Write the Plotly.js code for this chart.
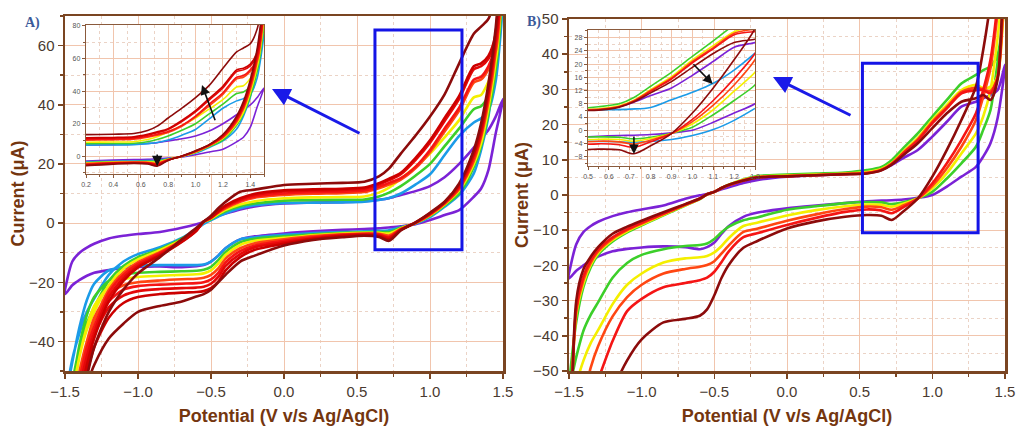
<!DOCTYPE html>
<html><head><meta charset="utf-8">
<script src="https://cdn.plot.ly/plotly-3.0.1.min.js"></script>
<style>html,body{margin:0;padding:0;background:#fff}#chart{width:1018px;height:426px}</style>
</head><body><div id="chart"></div>
<script>
// Potential grid (V vs Ag/AgCl), shared by every branch
const potential = [-1.5,-1.45,-1.4,-1.35,-1.3,-1.2,-1.1,-1.0,-0.85,-0.7,-0.6,-0.55,-0.5,-0.45,-0.4,-0.3,-0.2,0,0.2,0.4,0.55,0.65,0.72,0.8,0.9,1.0,1.1,1.2,1.3,1.35,1.4,1.45,1.5];

// ---------- Panel A : upper (anodic) branches ----------
const aVioletUp  = [-24,-13,-10,-8.3,-7,-5.2,-4.3,-3.7,-3,-1.6,-0.4,0.4,1.4,2.4,3.2,4.6,5.6,6.6,6.9,7.1,7.4,7.9,8.4,9.5,10.8,12.5,15.5,20,25.5,28.6,31.5,36,42];
const aBlueUp    = [-60,-46,-37,-30,-25.5,-17.5,-13,-10.5,-8.2,-5,-2,-0.3,1,2.2,3.3,5,6,6.8,6.9,7,7.2,7.8,8.5,10,13,16.5,23,29.5,34,35.4,38,48,75];
const aGreenUp   = [-70,-54,-42,-34,-28.5,-19.5,-14.5,-11.5,-8.8,-5.3,-2.1,0.4,1.3,2.8,4,5.7,6.6,7.6,7.8,7.9,8,9,10.3,12.5,16,20,26,32,38.5,39.5,43,52,80];
const aYellowUp  = [-75,-58,-45,-36,-30,-21,-15.5,-12.3,-9.2,-5.6,-2.2,0.4,1.5,3.1,4.5,6.3,7.4,8.4,8.7,8.8,9,10.3,12,15,19,23.5,29,34.8,42.5,43.3,47.8,55,85];
const aOrangeUp  = [-82,-64,-50,-40,-33,-22.5,-16.7,-13.2,-9.8,-5.8,-2.3,0.5,1.7,3.5,5,7.2,8.6,9.5,9.9,10.1,10.5,11.8,13,14.7,18.5,24,31,38,47.5,48.5,52,58,88];
const aRedUp     = [-88,-68,-53,-42,-35,-23.5,-17.5,-13.8,-10.2,-6,-2.4,0.5,1.8,3.7,5.4,7.6,9,10,10.4,10.6,11,12.3,13.6,15.2,19,24.7,32,39,48.5,49.5,53,60,90];
const aRed2Up    = [-93,-72,-56,-45,-37,-25,-18.5,-14.5,-10.7,-6.2,-2.5,0.5,1.9,3.9,5.7,8,9.5,10.7,11,11.2,11.6,13,14.5,16.5,21.3,27.2,34.5,42,52,53,55.5,62,92];
const aCrimsonUp = [-98,-76,-60,-48,-39,-26.5,-19.5,-15,-11,-6.4,-2.6,0.5,2,4.1,6,8.4,9.9,11.1,11.4,11.6,12,13.5,15,17,22,28,35.5,43,53,54,56.5,64,95];
const aDarkUp    = [-110,-85,-65,-52,-42,-30,-22.5,-17,-11.5,-5.5,-1.6,0.5,2.5,5,7.2,10.6,11.3,12.9,13.3,13.6,14,15.8,18.5,23.5,29.5,36,43.5,54,64,66.4,69,78,100];

// ---------- Panel A : lower (cathodic) branches ----------
const aVioletDown  = [-24,-21,-19.2,-17.8,-16.8,-15.9,-15.2,-14.8,-14.7,-14.9,-14.6,-14.2,-13,-11,-8.5,-5.5,-4.5,-3.5,-2.8,-2.3,-2,-1.8,-1.5,-1.1,-0.4,1,2.7,4.4,8.9,11.7,17.9,30.3,42];
const aBlueDown    = [-60,-47,-35,-26,-20.5,-16,-14.8,-14.4,-14.2,-14.2,-14.2,-14,-13,-11,-8.5,-5.5,-4.8,-4,-3.4,-3,-2.8,-2.6,-2.4,-1.4,-0.2,2,5.5,9.5,16.8,24.7,36,55,75];
const aGreenDown   = [-70,-55,-41,-31,-25,-19.5,-17.5,-16.8,-16.5,-16.3,-16.1,-15.8,-14.8,-12.5,-9.8,-6.5,-5.3,-4.5,-3.8,-3.3,-3.1,-3,-3,-1.6,-0.1,2.4,6,10,19,26,37,52,80];
const aYellowDown  = [-75,-60,-45,-35,-28,-21.5,-19,-18.2,-17.8,-17.5,-17.3,-17,-16,-13.7,-10.8,-7.4,-6,-5,-4.1,-3.5,-3.3,-3.3,-3.5,-1.8,0,2.6,6.3,11,20,27,39,55,85];
const aOrangeDown  = [-82,-68,-52,-40,-32,-24,-21,-20,-19.4,-19,-18.8,-18.5,-17.5,-15.3,-12,-8.5,-6.8,-5.5,-4.4,-3.8,-3.5,-3.6,-4.2,-2,0,2.8,6.5,11.5,21,29,41,58,88];
const aRedDown     = [-88,-72,-56,-43,-35,-26.5,-22.5,-21.3,-20.8,-20.5,-20.3,-20,-19,-16.8,-13.3,-9.5,-7.6,-6,-4.8,-4,-3.7,-3.9,-4.7,-2.1,0.1,3,6.8,12,22,30,43,60,90];
const aRed2Down    = [-93,-77,-60,-47,-38,-28.5,-24.5,-23,-22.3,-22,-21.8,-21.5,-20.5,-18.2,-14.5,-10.5,-8.2,-6.5,-5.1,-4.2,-3.9,-4.1,-5,-2.2,0.1,3.2,7,12.5,23,31,44,62,92];
const aCrimsonDown = [-98,-82,-64,-51,-42,-32,-27,-25,-24,-23.5,-23.3,-23,-22,-19.8,-16,-11.5,-9,-7,-5.4,-4.4,-4.1,-4.4,-5.5,-2.3,0.2,3.3,7.1,13,23.5,32,45,64,95];
const aDarkDown    = [-110,-85,-68,-55,-48,-39,-34,-30,-28,-26.5,-24.8,-24,-22.5,-20,-17.5,-13,-11,-7.6,-5.7,-4.8,-4.3,-4.7,-6,-2.5,0.2,3.5,7.2,13.4,24.7,33.7,47,66,100];

// ---------- Panel B : upper branches ----------
const bVioletUp = [-23.7,-14,-10.5,-8.8,-7.6,-6,-4.9,-4.1,-3,-1.1,-0.1,0.3,0.9,1.6,2.2,3.4,4.3,5.2,5.6,6,6.4,7.2,8.5,10.5,12.8,16.6,20.8,25.1,26.5,27.5,28.4,29.8,37];
const bGreenUp  = [-55,-36,-26,-20.5,-17,-13.2,-10.6,-8.6,-5.8,-3,-1.2,0.2,0.9,2,2.9,4.4,5.4,5.8,6.1,6.4,7.1,8,9.9,13.3,17.5,22.3,27,31.7,34.1,35.5,36.5,40,55];
const bYellowUp = [-75,-34,-25,-19.8,-16.5,-12.8,-10.3,-8.4,-5.6,-2.9,-1.1,0.2,0.9,2,2.9,4.3,5.2,5.5,5.8,6.1,6.5,7.4,9.1,12.3,16.2,21.3,25.6,29.8,31.3,30.3,30.8,34,65];
const bOrangeUp = [-90,-33,-24,-19.2,-16,-12.4,-10,-8.1,-5.4,-2.8,-1.1,0.2,0.9,2,2.8,4.2,5.1,5.4,5.7,6,6.3,7.2,8.9,12,15.8,20.8,25,29.3,30.5,30,29.5,33.6,72];
const bRedUp    = [-100,-32,-23,-18.5,-15.5,-12,-9.7,-7.8,-5.3,-2.7,-1,0.2,0.9,2,2.8,4.1,5,5.3,5.6,5.9,6.2,7.1,8.8,11.8,15.5,20.4,24.6,28.9,29.8,29.8,28.9,33.6,80];
const bDarkUp   = [-130,-30,-21,-17.5,-14.8,-11,-9,-7.3,-4.9,-2.6,-1,0.2,0.9,2,2.9,4.1,5,5.3,5.6,5.9,6.1,7,8.6,11.3,14.7,19,23.2,26.5,27.5,28.4,27,33,100];

// ---------- Panel B : lower branches ----------
const bVioletDown = [-23.7,-21.5,-20,-18.6,-17.5,-16,-15.3,-14.9,-14.6,-14.8,-15.4,-14.8,-13.5,-11,-8.8,-6.2,-5,-3.8,-3,-2.3,-1.8,-1.6,-1.5,-1.3,-0.8,0,2.4,5.2,8,10.9,14.7,22,37];
const bGreenDown  = [-55,-46,-38.5,-34,-30.5,-23.5,-19.3,-17,-15.4,-14.5,-14.2,-13.8,-12.5,-10.6,-9,-7.2,-6.3,-4.2,-3.2,-2.3,-2,-2.1,-2.6,-2.1,-0.9,0.9,4.7,9,13.7,18.5,24.1,38,55];
const bYellowDown = [-75,-54,-47,-42,-38.4,-31,-25.5,-22.3,-19.2,-18,-17.7,-17.3,-16.3,-14.5,-12.2,-8.8,-7.8,-5.8,-4.3,-3.2,-2.7,-2.8,-3.3,-2.5,-1,1.9,6.2,11.8,17.5,22.3,29.8,45,65];
const bOrangeDown = [-90,-70,-58,-49,-43,-34.5,-29,-25.5,-22.3,-21,-20.4,-19.9,-18.8,-16.6,-14.3,-10.5,-9.5,-7.3,-5.5,-4,-3.3,-3.5,-4.2,-3,-1,2.6,7.6,13.7,21.3,27.9,36,52,72];
const bRedDown    = [-100,-80,-66,-58,-52.5,-41.5,-33,-29.5,-26.2,-25,-24.2,-23.5,-21.8,-19,-16,-12,-10.8,-8.5,-6.5,-4.8,-4.1,-4.4,-5.2,-3.5,-1,3.3,9,15.6,23.2,29.8,38.4,55,80];
const bDarkDown   = [-130,-110,-95,-82,-72,-56,-47,-41,-36.2,-35.2,-34.3,-32.5,-28.5,-23.5,-19.8,-15,-13,-9.5,-7.5,-6.2,-5.7,-5.9,-7.1,-4.7,-1,5.2,12.8,21.3,30.8,41.2,55,75,100];

// ---------- Inset B : extra blue curve (only shown in the inset) ----------
const insetBluePotential = [0.5,0.6,0.7,0.8,0.9,1.0,1.1,1.2,1.3];
const insetBlueUp   = [6.1,6.2,6.4,6.9,9.2,11.5,14.2,18.2,23.3];
const insetBlueDown = [-3.3,-3.4,-3.6,-3.4,-2.8,-1.6,0.2,3,6.6];

// ---------- colours ----------
const cViolet='#7b22d6', cBlue='#1b9be8', cGreen='#3ccf2a', cYellow='#f4ef00',
      cOrange='#ff4612', cRed='#f51515', cRed2='#e40808', cCrimson='#cc0000', cDark='#8c0b0b';

const panelA = [
  [aVioletUp,aVioletDown,cViolet],[aBlueUp,aBlueDown,cBlue],[aGreenUp,aGreenDown,cGreen],
  [aYellowUp,aYellowDown,cYellow],[aOrangeUp,aOrangeDown,cOrange],[aRedUp,aRedDown,cRed],
  [aRed2Up,aRed2Down,cRed2],[aCrimsonUp,aCrimsonDown,cCrimson],[aDarkUp,aDarkDown,cDark]
];
const panelB = [
  [bVioletUp,bVioletDown,cViolet],[bGreenUp,bGreenDown,cGreen],[bYellowUp,bYellowDown,cYellow],
  [bOrangeUp,bOrangeDown,cOrange],[bRedUp,bRedDown,cRed],[bDarkUp,bDarkDown,cDark]
];

function loop(up, down){
  const x = potential.concat(potential.slice(0,-1).reverse());
  const y = up.concat(down.slice(0,-1).reverse());
  return {x, y};
}
const traces = [];
function addPanel(list, xa, ya, w){
  list.forEach(([u,d,c]) => {
    const L = loop(u,d);
    traces.push({type:'scatter', mode:'lines', x:L.x, y:L.y, xaxis:xa, yaxis:ya,
      line:{color:c, width:w, shape:'spline', smoothing:0.75}, hoverinfo:'skip', showlegend:false});
  });
}
addPanel(panelA,'x','y',2.6);
addPanel(panelB,'x2','y2',2.6);
addPanel(panelA,'x3','y3',1.6);
// inset B: blue first so it sits underneath
traces.push({type:'scatter', mode:'lines',
  x: insetBluePotential.concat([null]).concat(insetBluePotential),
  y: insetBlueUp.concat([null]).concat(insetBlueDown),
  xaxis:'x4', yaxis:'y4', line:{color:cBlue,width:1.6,shape:'spline'}, hoverinfo:'skip', showlegend:false});
addPanel(panelB,'x4','y4',1.6);

const brown='#7a4522', tickCol='#4a3a30', grid='#f1c5ad', minorGrid='#ebd3c6';
const titleFont={family:'Liberation Sans, Arial, sans-serif', size:18, color:'#74360f', weight:'bold'};
const tickFont={family:'Liberation Sans, Arial, sans-serif', size:15, color:tickCol};
const W=1018, H=426;
function mainX(d0,d1,anchor){return {domain:[d0/W,d1/W], anchor, range:[-1.5,1.5], dtick:0.5, tick0:-1.5, tickformat:'.1f',
  showline:true, mirror:true, linecolor:brown, linewidth:2.5, ticks:'outside', ticklen:5, tickwidth:1.5, tickcolor:brown,
  showgrid:true, gridcolor:grid, gridwidth:1, zeroline:false, tickfont:tickFont,
  minor:{dtick:0.25, showgrid:true, gridcolor:minorGrid, griddash:'dot', ticks:'outside', ticklen:3, tickcolor:brown},
  title:{text:'Potential (V v/s Ag/AgCl)', font:titleFont, standoff:14}};}
function mainY(top,bot,anchor,range,dt){return {domain:[1-bot/H,1-top/H], anchor, range, dtick:dt, tick0:0,
  showline:true, mirror:true, linecolor:brown, linewidth:2.5, ticks:'outside', ticklen:5, tickwidth:1.5, tickcolor:brown,
  showgrid:true, gridcolor:grid, gridwidth:1, zeroline:false, tickfont:tickFont,
  minor:{dtick:dt/2, showgrid:true, gridcolor:minorGrid, griddash:'dot', ticks:'outside', ticklen:3, tickcolor:brown},
  title:{text:'Current (μA)', font:titleFont, standoff:0}};}
const insTick={family:'Liberation Sans, Arial, sans-serif', size:7, color:'#555'};
function insAxis(d0,d1,anchor,range,dt,t0,fmt,isY){
  const dom = isY ? [1-d1/H,1-d0/H] : [d0/W,d1/W];
  return {domain:dom, anchor, range, dtick:dt, tick0:t0, tickformat:fmt, showline:true, mirror:true,
    linecolor:'#8a5a3c', linewidth:1.3, ticks:'outside', ticklen:3, tickwidth:1, tickcolor:'#8a5a3c',
    showgrid:true, gridcolor:grid, gridwidth:1, zeroline:false, tickfont:insTick,
    minor:{dtick:dt/2, showgrid:true, gridcolor:minorGrid, griddash:'dot', ticks:'outside', ticklen:2, tickcolor:'#8a5a3c'}};
}

const layout = {
  width:W, height:H, autosize:false, margin:{l:0,r:0,t:0,b:0},
  paper_bgcolor:'#ffffff', plot_bgcolor:'#ffffff', showlegend:false, hovermode:false,
  xaxis: mainX(65,503,'y'),
  yaxis: mainY(16,371,'x',[-50,70],20),
  xaxis2: mainX(569,1005,'y2'),
  yaxis2: mainY(19,371,'x2',[-50,50],10),
  xaxis3: insAxis(86,264,'y3',[0.2,1.5],0.2,0.2,'.1f',false),
  yaxis3: insAxis(25,174,'x3',[-10.8,80.5],20,0,'d',true),
  xaxis4: insAxis(588,755,'y4',[0.5,1.3],0.1,0.5,'.1f',false),
  yaxis4: insAxis(30,166,'x4',[-10.8,30.3],4,0,'d',true),
  shapes:[
    {type:'rect', xref:'x', yref:'y', x0:0.623, x1:1.219, y0:-9, y1:65.3, line:{color:'#1414e6', width:3}},
    {type:'rect', xref:'x2', yref:'y2', x0:0.519, x1:1.315, y0:-10.7, y1:37.4, line:{color:'#1414e6', width:3}}
  ],
  annotations:[
    {xref:'paper', yref:'paper', x:23/W, y:1-22.5/H, xanchor:'left', yanchor:'middle', showarrow:false, text:'A)',
     font:{family:'Liberation Serif, serif', size:14, color:'#3b5a9a', weight:'bold'}},
    {xref:'paper', yref:'paper', x:525/W, y:1-21.5/H, xanchor:'left', yanchor:'middle', showarrow:false, text:'B)',
     font:{family:'Liberation Serif, serif', size:14, color:'#3b5a9a', weight:'bold'}},
    {xref:'paper', yref:'paper', x:272/W, y:1-89/H, ax:89, ay:45, text:'', showarrow:true, arrowhead:2, arrowsize:1.2, arrowwidth:3, arrowcolor:'#1a1ae8', standoff:0},
    {xref:'paper', yref:'paper', x:773/W, y:1-77/H, ax:79, ay:39, text:'', showarrow:true, arrowhead:2, arrowsize:1.2, arrowwidth:3, arrowcolor:'#1a1ae8', standoff:0},
    {xref:'x3', yref:'y3', axref:'x3', ayref:'y3', x:1.047, y:43.7, ax:1.147, ay:21.2, text:'', showarrow:true, arrowhead:2, arrowsize:1.2, arrowwidth:1.6, arrowcolor:'#111'},
    {xref:'x3', yref:'y3', axref:'x3', ayref:'y3', x:0.72, y:-6, ax:0.72, ay:2, text:'', showarrow:true, arrowhead:2, arrowsize:1.3, arrowwidth:1.6, arrowcolor:'#111'},
    {xref:'x4', yref:'y4', axref:'x4', ayref:'y4', x:1.097, y:14, ax:0.998, ay:20.4, text:'', showarrow:true, arrowhead:2, arrowsize:1.2, arrowwidth:1.6, arrowcolor:'#111'},
    {xref:'x4', yref:'y4', axref:'x4', ayref:'y4', x:0.72, y:-7.2, ax:0.72, ay:-1.4, text:'', showarrow:true, arrowhead:2, arrowsize:1.2, arrowwidth:1.6, arrowcolor:'#111'}
  ]
};
Plotly.newPlot('chart', traces, layout, {displayModeBar:false, staticPlot:true});
</script></body></html>
